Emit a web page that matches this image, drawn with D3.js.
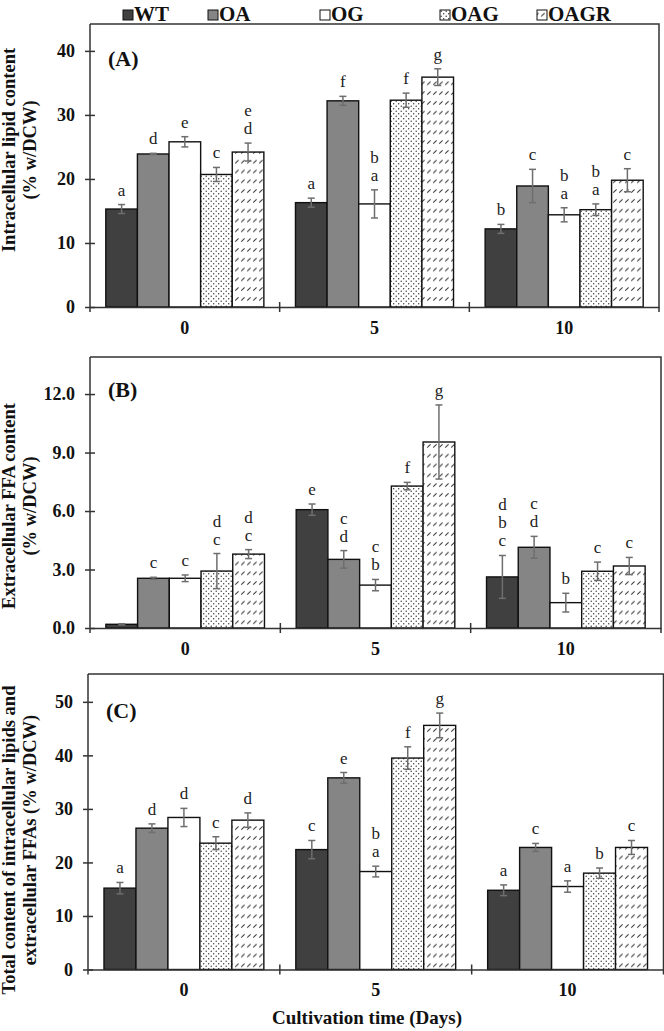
<!DOCTYPE html>
<html>
<head>
<meta charset="utf-8">
<script src="https://cdn.jsdelivr.net/npm/d3@7/dist/d3.min.js"></script>
<style>
  html, body { margin: 0; padding: 0; background: #fff; }
  svg { display: block; }
  text { font-family: "Liberation Serif", "Times New Roman", serif; }
</style>
</head>
<body>
<svg id="chart" width="664" height="1031"></svg>
<script>
// ---------------- DATA ----------------
const categories = ["0", "5", "10"];
const series = ["WT", "OA", "OG", "OAG", "OAGR"];

// Panel A: Intracellular lipid content (% w/DCW), rows = series, cols = days
const lipidValues = {
  WT:   [15.3, 16.3, 12.2],
  OA:   [23.9, 32.2, 18.9],
  OG:   [25.8, 16.1, 14.4],
  OAG:  [20.7, 32.3, 15.2],
  OAGR: [24.2, 35.9, 19.8]
};
const lipidErrors = {
  WT:   [0.7, 0.7, 0.7],
  OA:   [0.1, 0.7, 2.6],
  OG:   [0.8, 2.2, 1.1],
  OAG:  [1.1, 1.1, 0.9],
  OAGR: [1.4, 1.3, 1.8]
};
const lipidLetters = [
  ["a", "d", "e", "c", "e\nd"],
  ["a", "f", "b\na", "f", "g"],
  ["b", "c", "b\na", "b\na", "c"]
];
const lipidTicks = [0, 10, 20, 30, 40];

// Panel B: Extracellular FFA content
const ffaValues = {
  WT:   [0.19, 6.07, 2.62],
  OA:   [2.55, 3.52, 4.14],
  OG:   [2.55, 2.20, 1.30],
  OAG:  [2.92, 7.28, 2.91],
  OAGR: [3.79, 9.54, 3.18]
};
const ffaErrors = {
  WT:   [0.03, 0.29, 1.10],
  OA:   [0.05, 0.45, 0.56],
  OG:   [0.17, 0.29, 0.48],
  OAG:  [0.90, 0.19, 0.47],
  OAGR: [0.23, 1.90, 0.44]
};
const ffaLetters = [
  ["", "c", "c", "d\nc", "d\nc"],
  ["e", "c\nd", "c\nb", "f", "g"],
  ["d\nb\nc", "c\nd", "b", "c", "c"]
];
const ffaTicks = [0, 3, 6, 9, 12];

// Panel C: Total content
const totalValues = {
  WT:   [15.2, 22.4, 14.8],
  OA:   [26.4, 35.8, 22.8],
  OG:   [28.4, 18.3, 15.5],
  OAG:  [23.6, 39.5, 18.0],
  OAGR: [27.9, 45.6, 22.8]
};
const totalErrors = {
  WT:   [1.06, 1.7, 1.0],
  OA:   [0.8, 1.0, 0.75],
  OG:   [1.7, 1.0, 1.06],
  OAG:  [1.2, 2.1, 0.96],
  OAGR: [1.35, 2.3, 1.3]
};
const totalLetters = [
  ["a", "d", "d", "c", "d"],
  ["c", "e", "b\na", "f", "g"],
  ["a", "c", "a", "b", "c"]
];
const totalTicks = [0, 10, 20, 30, 40, 50];

const xTitle = "Cultivation time (Days)";

// ---------------- DRAW ----------------
const svg = d3.select("#chart");
const defs = svg.append("defs");

// dotted pattern (OAG)
const pDots = defs.append("pattern").attr("id", "dots")
  .attr("patternUnits", "userSpaceOnUse").attr("width", 5).attr("height", 5);
pDots.append("rect").attr("width", 5).attr("height", 5).attr("fill", "#fff");
pDots.append("circle").attr("cx", 1.2).attr("cy", 1.2).attr("r", 0.7).attr("fill", "#333");
pDots.append("circle").attr("cx", 3.7).attr("cy", 3.7).attr("r", 0.7).attr("fill", "#333");

// short diagonal dash pattern (OAGR)
const pHatch = defs.append("pattern").attr("id", "hatch")
  .attr("patternUnits", "userSpaceOnUse").attr("width", 6).attr("height", 9.8);
pHatch.append("rect").attr("width", 6).attr("height", 9.8).attr("fill", "#fff");
pHatch.append("line").attr("x1", 1.2).attr("y1", 6.6).attr("x2", 4.6).attr("y2", 3.2)
  .attr("stroke", "#333").attr("stroke-width", 1);

const fills = { WT: "#404040", OA: "#858585", OG: "#ffffff", OAG: "url(#dots)", OAGR: "url(#hatch)" };

const panels = [
  { values: lipidValues, errors: lipidErrors, letters: lipidLetters, ticks: lipidTicks, fmt: d3.format("d"),
    tag: "(A)", title: ["Intracellular lipid content", "(% w/DCW)"],
    x: [90, 659], y: [307, 24], max: 44.2, titleY: 150 },
  { values: ffaValues, errors: ffaErrors, letters: ffaLetters, ticks: ffaTicks, fmt: d3.format(".1f"),
    tag: "(B)", title: ["Extracellular FFA content", "(% w/DCW)"],
    x: [90, 661], y: [628, 357], max: 13.9, titleY: 506 },
  { values: totalValues, errors: totalErrors, letters: totalLetters, ticks: totalTicks, fmt: d3.format("d"),
    tag: "(C)", title: ["Total content of intracellular lipids and", "extracellular FFAs (% w/DCW)"],
    x: [88, 663.5], y: [969.5, 674], max: 55.2, titleY: 840 }
];

const axisColor = "#333";

panels.forEach(p => {
  const g = svg.append("g");
  const x0 = d3.scaleBand().domain(categories).range(p.x).paddingInner(0).paddingOuter(0);
  const x1 = d3.scaleBand().domain(series).range([0, x0.bandwidth()]).paddingInner(0).paddingOuter(0.5);
  const y = d3.scaleLinear().domain([0, p.max]).range(p.y);

  // frame: top and right
  g.append("path")
    .attr("d", `M${p.x[0]},${p.y[1]}H${p.x[1]}V${p.y[0] + 5}`)
    .attr("fill", "none").attr("stroke", axisColor).attr("stroke-width", 1.5);

  // bars
  const rows = [];
  categories.forEach((c, ci) => series.forEach((s, si) => {
    rows.push({ c, ci, s, v: p.values[s][ci], e: p.errors[s][ci], lab: p.letters[ci][si] });
  }));

  g.selectAll("rect.bar").data(rows).join("rect")
    .attr("class", "bar")
    .attr("x", d => x0(d.c) + x1(d.s))
    .attr("width", x1.bandwidth())
    .attr("y", d => y(d.v))
    .attr("height", d => y(0) - y(d.v))
    .attr("fill", d => fills[d.s])
    .attr("stroke", "#111").attr("stroke-width", 1.4);

  // error bars
  const eg = g.selectAll("g.err").data(rows).join("g").attr("class", "err")
    .attr("stroke", "#6e6e6e").attr("stroke-width", 1.5);
  eg.append("line")
    .attr("x1", d => x0(d.c) + x1(d.s) + x1.bandwidth() / 2)
    .attr("x2", d => x0(d.c) + x1(d.s) + x1.bandwidth() / 2)
    .attr("y1", d => y(d.v - d.e)).attr("y2", d => y(d.v + d.e));
  ["-", "+"].forEach(sign => {
    eg.append("line")
      .attr("x1", d => x0(d.c) + x1(d.s) + x1.bandwidth() / 2 - 3.5)
      .attr("x2", d => x0(d.c) + x1(d.s) + x1.bandwidth() / 2 + 3.5)
      .attr("y1", d => y(sign === "-" ? d.v - d.e : d.v + d.e))
      .attr("y2", d => y(sign === "-" ? d.v - d.e : d.v + d.e));
  });

  // significance letters
  rows.forEach(d => {
    if (!d.lab) return;
    const lines = d.lab.split("\n");
    const cx = x0(d.c) + x1(d.s) + x1.bandwidth() / 2;
    const base = y(d.v + d.e) - 9;
    lines.forEach((t, i) => {
      g.append("text")
        .attr("x", cx).attr("y", base - (lines.length - 1 - i) * 18)
        .attr("text-anchor", "middle")
        .attr("font-size", 17).attr("fill", "#222")
        .text(t);
    });
  });

  // y axis
  const ya = g.append("g").attr("transform", `translate(${p.x[0]},0)`)
    .call(d3.axisLeft(y).tickValues(p.ticks).tickFormat(p.fmt).tickSizeInner(5).tickSizeOuter(0).tickPadding(10));
  ya.select(".domain").attr("d", `M0,${p.y[0] + 5}V${p.y[1]}`).attr("stroke", axisColor).attr("stroke-width", 1.5);
  ya.selectAll(".tick line").attr("x1", 5).attr("x2", -5).attr("stroke", axisColor).attr("stroke-width", 1.5);
  ya.selectAll(".tick text").attr("font-family", "Liberation Serif, serif")
    .attr("font-weight", "bold").attr("font-size", 18).attr("fill", "#111");

  // x axis
  const xa = g.append("g").attr("transform", `translate(0,${p.y[0]})`)
    .call(d3.axisBottom(x0).tickSize(0).tickPadding(14));
  xa.select(".domain").attr("stroke", axisColor).attr("stroke-width", 1.5);
  xa.selectAll(".tick text").attr("font-family", "Liberation Serif, serif")
    .attr("font-weight", "bold").attr("font-size", 18).attr("fill", "#111");
  // separators at group boundaries
  xa.selectAll("line.sep").data(categories.slice(1)).join("line").attr("class", "sep")
    .attr("x1", c => x0(c)).attr("x2", c => x0(c))
    .attr("y1", -5).attr("y2", 5)
    .attr("stroke", axisColor).attr("stroke-width", 1.5);

  // panel tag
  g.append("text").attr("x", p.x[0] + 18).attr("y", p.y[1] + (p.y[0] - p.y[1]) * 0.148)
    .attr("font-weight", "bold").attr("font-size", 22).attr("fill", "#111").text(p.tag);

  // y title
  p.title.forEach((t, i) => {
    g.append("text")
      .attr("transform", `translate(${15 + i * 21},${p.titleY}) rotate(-90)`)
      .attr("text-anchor", "middle")
      .attr("font-weight", "bold").attr("font-size", 18.5).attr("fill", "#111")
      .text(t);
  });
});

// x title
svg.append("text").attr("x", 367).attr("y", 1024).attr("text-anchor", "middle")
  .attr("font-weight", "bold").attr("font-size", 19).attr("fill", "#111").text(xTitle);

// legend
const legendX = [123, 208, 320, 440, 537];
const lg = svg.append("g");
series.forEach((s, i) => {
  lg.append("rect").attr("x", legendX[i]).attr("y", 10).attr("width", 10).attr("height", 10)
    .attr("fill", fills[s]).attr("stroke", "#111").attr("stroke-width", 1);
  lg.append("text").attr("x", legendX[i] + 11).attr("y", 21)
    .attr("font-weight", "bold").attr("font-size", 21).attr("fill", "#111").text(s);
});
</script>
</body>
</html>
